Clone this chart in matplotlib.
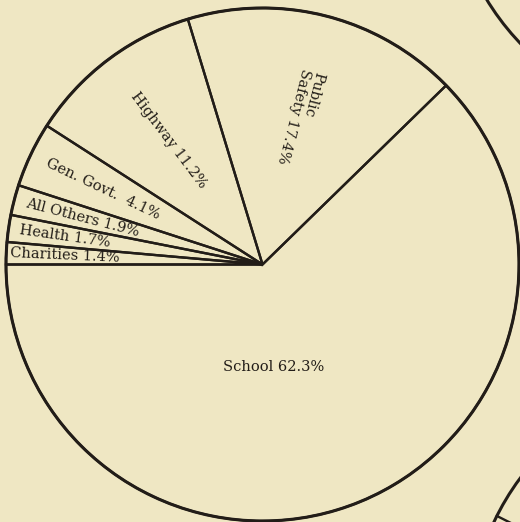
import matplotlib
matplotlib.use("Agg")
from matplotlib import pyplot as plt
from matplotlib.patches import Circle
import numpy as np

# shares of expenditure, in percent, drawn clockwise from the left horizontal
categories = ["Charities", "Health", "All Others", "Gen. Govt.", "Highway", "Public\nSafety", "School"]
shares = [1.4, 1.7, 1.9, 4.1, 11.2, 17.4, 62.3]

bg = "#efe7c3"
ink = "#221d18"

fig = plt.figure(figsize=(5.2, 5.22), dpi=100, facecolor=bg)
ax = fig.add_axes([0, 0, 1, 1])
ax.set_facecolor(bg)

H = 522
cx, cy, r = 262.5, H - 264.5, 256.5
start = 180

wedges, _ = ax.pie(shares, center=(cx, cy), radius=r, startangle=start, counterclock=False,
                   wedgeprops=dict(facecolor="none", edgecolor=ink, linewidth=1.7),
                   frame=True)
ax.set_xlim(0, 520)
ax.set_ylim(0, 522)
ax.axis("off")
ax.add_patch(Circle((cx, cy), r, fill=False, edgecolor=ink, linewidth=2.2))

# neighbouring pies on the page, only partly visible
ax.add_patch(Circle((705.4, H + 133.5), 256, fill=False, edgecolor=ink, linewidth=2.2))
c2 = (725.6, H - 630.9)
ax.add_patch(Circle(c2, 256, fill=False, edgecolor=ink, linewidth=2.2))
a = np.arctan2((H - 514) - c2[1], 493 - c2[0])
ax.plot([c2[0], c2[0] + 256 * np.cos(a)], [c2[1], c2[1] + 256 * np.sin(a)], color=ink, lw=1.7)

# labels run along the radius of their wedge; distance of label centre from pie centre
labels = ["Charities 1.4%", "Health 1.7%", "All Others 1.9%", "Gen. Govt.  4.1%",
          "Highway 11.2%", "Public\nSafety 17.4%"]
label_dist = [198, 200, 186, 177, 156, 152]

for w, txt, d in zip(wedges, labels, label_dist):
    mid = (w.theta1 + w.theta2) / 2
    x = cx + d * np.cos(np.radians(mid))
    y = cy + d * np.sin(np.radians(mid))
    ax.text(x, y, txt, rotation=mid - 180, rotation_mode="anchor",
            ha="center", va="center", multialignment="left",
            fontsize=10.5, family="DejaVu Serif", color=ink, linespacing=1.0)

ax.text(274, H - 367, "School 62.3%", ha="center", va="center",
        fontsize=10.5, family="DejaVu Serif", color=ink)

fig.savefig("out.png", dpi=100, facecolor=bg)
